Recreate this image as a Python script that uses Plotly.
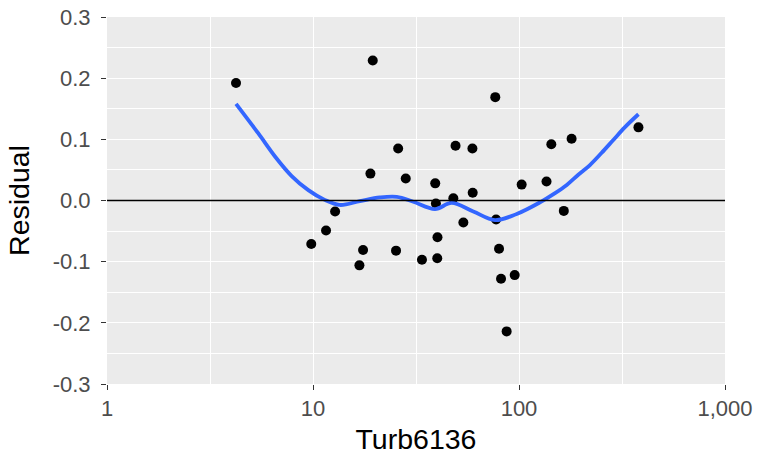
import plotly.graph_objects as go

# Data
turb = [4.23, 9.81, 11.57, 12.8, 16.8, 17.5, 19.0, 19.5, 25.3, 25.9, 28.2, 33.8,
        39.2, 39.5, 40.1, 40.2, 48.0, 49.2, 53.7, 59.4, 59.6, 76.7, 77.4, 80.0,
        81.8, 87.1, 95.3, 103.0, 136.0, 143.5, 165.0, 180.0, 380.0]
resid = [0.192, -0.071, -0.049, -0.018, -0.106, -0.081, 0.044, 0.229, -0.082, 0.085,
         0.036, -0.097, 0.028, -0.005, -0.0945, -0.060, 0.0036, 0.0895, -0.036, 0.085,
         0.0127, 0.169, -0.031, -0.079, -0.128, -0.214, -0.122, 0.026, 0.031, 0.092,
         -0.017, 0.101, 0.1196]

# Smooth (loess) curve
smooth_x = [4.23, 5.42, 6.54, 7.88, 9.49, 11.4, 13.5, 16.9, 21.1, 25.5, 30.7, 39.1,
            47.1, 60.0, 76.4, 97.5, 126.5, 149.6, 170.0, 194.0, 221.0, 252.0, 287.0,
            327.0, 380.0]
smooth_y = [0.158, 0.110, 0.072, 0.040, 0.017, 0.001, -0.0073, -0.001, 0.005, 0.006,
            -0.002, -0.014, -0.004, -0.018, -0.032, -0.022, -0.003, 0.012, 0.025,
            0.042, 0.058, 0.078, 0.099, 0.120, 0.141]

x_ticks = [1, 10, 100, 1000]
x_labels = ["1", "10", "100", "1,000"]
x_minor = [3.1623, 31.623, 316.23]
y_ticks = [0.3, 0.2, 0.1, 0.0, -0.1, -0.2, -0.3]
y_labels = ["0.3", "0.2", "0.1", "0.0", "-0.1", "-0.2", "-0.3"]
y_minor = [0.25, 0.15, 0.05, -0.05, -0.15, -0.25]

fig = go.Figure()
fig.add_trace(go.Scatter(x=turb, y=resid, mode="markers",
                         marker=dict(color="black", size=10), showlegend=False))
fig.add_trace(go.Scatter(x=smooth_x, y=smooth_y, mode="lines",
                         line=dict(color="#3366FF", width=3.8, shape="spline", smoothing=1.0),
                         showlegend=False))
fig.add_hline(y=0, line=dict(color="black", width=1.5))

font_family = "Liberation Sans, Arial, sans-serif"
fig.update_layout(
    width=759, height=463,
    margin=dict(l=107, r=34, t=17, b=79),
    paper_bgcolor="white",
    plot_bgcolor="#EBEBEB",
    font=dict(family=font_family, color="#4D4D4D", size=22),
)
fig.update_xaxes(
    type="log", range=[0, 3], automargin=False,
    tickmode="array", tickvals=x_ticks, ticktext=x_labels,
    showgrid=True, gridcolor="white", gridwidth=1.2,
    ticks="outside", ticklen=5, tickcolor="#333333", tickwidth=1.3,
    tickfont=dict(size=22, color="#4D4D4D"),
    minor=dict(tickvals=x_minor, showgrid=True, gridcolor="white", gridwidth=0.6, ticklen=0),
    zeroline=False, showline=False,
    title=dict(text="Turb6136", font=dict(size=28.5, color="black"), standoff=8),
)
fig.update_yaxes(
    range=[-0.3, 0.3], automargin=False,
    tickmode="array", tickvals=y_ticks, ticktext=y_labels,
    showgrid=True, gridcolor="white", gridwidth=1.2,
    ticks="outside", ticklen=5, tickcolor="#333333", tickwidth=1.3,
    tickfont=dict(size=22, color="#4D4D4D"), ticklabelstandoff=6,
    minor=dict(tickvals=y_minor, showgrid=True, gridcolor="white", gridwidth=0.6, ticklen=0),
    zeroline=False, showline=False,
    title=dict(text="Residual", font=dict(size=28.5, color="black"), standoff=14),
)

fig.write_html("out.html")
